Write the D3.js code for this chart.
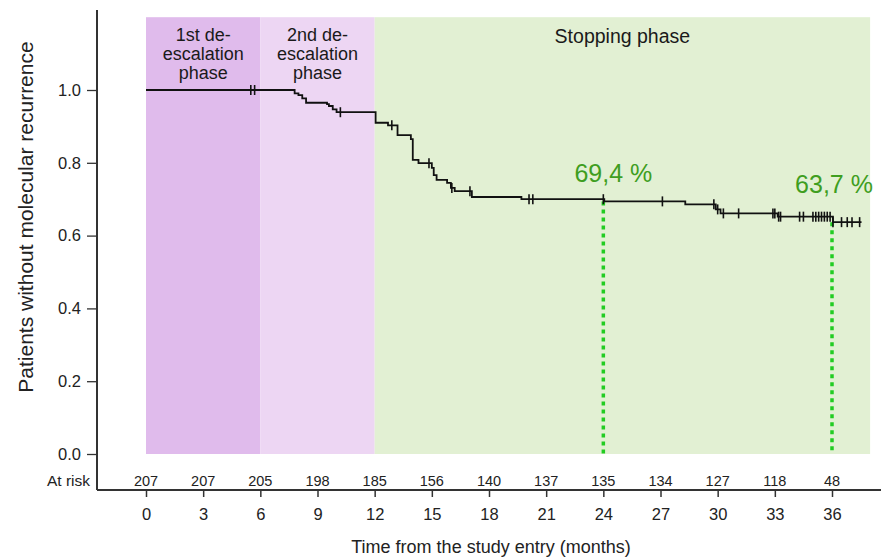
<!DOCTYPE html>
<html>
<head>
<meta charset="utf-8">
<script src="https://cdn.jsdelivr.net/npm/d3@7"></script>
<style>
  body { margin: 0; background: #fff; }
  svg text { font-family: "Liberation Sans", Arial, sans-serif; fill: #222; }
</style>
</head>
<body>
<div id="chart"></div>
<script>
// Kaplan-Meier steps (time in months, survival after the step)
const kmTimes = [0, 7.8, 8.0, 8.2, 8.4, 9.5, 9.6, 9.8, 10.0, 12.05, 12.7, 13.2, 13.9, 14.0, 14.3,
                 15.0, 15.1, 15.25, 15.8, 16.0, 16.2, 17.1, 19.7, 24.05, 28.3, 29.9, 30.15, 33.15, 36.05];
const kmSurv  = [1.0, 0.991, 0.986, 0.977, 0.965, 0.961, 0.956, 0.947, 0.939, 0.910, 0.903, 0.876, 0.865, 0.808, 0.799,
                 0.786, 0.766, 0.753, 0.745, 0.731, 0.722, 0.706, 0.700, 0.694, 0.686, 0.672, 0.661, 0.652, 0.637];
const kmEnd = 37.55;

// censored patients
const censorTimes = [5.5, 5.7, 10.2, 12.9, 14.85, 16.05, 17.0, 20.1, 20.3, 24.0, 27.1,
                     29.8, 30.0, 30.3, 31.1, 32.9, 33.0, 33.2, 33.3, 34.3, 34.5,
                     35.0, 35.15, 35.3, 35.45, 35.6, 35.75, 35.9, 36.05, 36.5, 36.8, 37.05, 37.45];

// phases
const phaseStart = [0, 6, 12];
const phaseEnd = [6, 12, 38];
const phaseNames = [["1st de-", "escalation", "phase"], ["2nd de-", "escalation", "phase"], ["Stopping phase"]];
const phaseColors = ["#e0bbec", "#edd6f3", "#e2f0d3"];

// highlighted estimates
const markTimes = [24, 36];
const markValues = [0.694, 0.637];
const markLabels = ["69,4 %", "63,7 %"];

// number at risk
const riskTimes = [0, 3, 6, 9, 12, 15, 18, 21, 24, 27, 30, 33, 36];
const atRisk = [207, 207, 205, 198, 185, 156, 140, 137, 135, 134, 127, 118, 48];
const yTicks = [0, 0.2, 0.4, 0.6, 0.8, 1.0];

const width = 881, height = 558;

const svg = d3.select("#chart")
              .append("svg")
              .attr("width", width)
              .attr("height", height);

const x = d3.scaleLinear().domain([0, 36]).range([146, 832]);
const y = d3.scaleLinear().domain([0, 1.2]).range([454, 17.2]);

const axisX = 97, axisY = 490;

// phase backgrounds
svg.selectAll("rect.phase")
   .data(phaseStart)
   .enter()
   .append("rect")
   .attr("class", "phase")
   .attr("x", (d, i) => x(d))
   .attr("width", (d, i) => x(phaseEnd[i]) - x(d))
   .attr("y", y(1.2))
   .attr("height", y(0) - y(1.2))
   .style("fill", (d, i) => phaseColors[i]);

phaseNames.forEach((lines, i) => {
  let t = svg.append("text")
             .attr("text-anchor", "middle")
             .style("font-size", i == 2 ? "19.5px" : "18px")
             .style("fill", "#1a1a1a");
  lines.forEach((l, j) => {
    t.append("tspan")
     .attr("x", (x(phaseStart[i]) + x(phaseEnd[i])) / 2)
     .attr("y", (i == 2 ? 43 : 41) + j * 19)
     .text(l);
  });
});

// dotted guide lines
svg.selectAll("line.mark")
   .data(markTimes)
   .enter()
   .append("line")
   .attr("class", "mark")
   .attr("x1", d => x(d))
   .attr("x2", d => x(d))
   .attr("y1", (d, i) => y(markValues[i]))
   .attr("y2", y(0))
   .style("stroke", "#22cc22")
   .style("stroke-width", 3.5)
   .style("stroke-dasharray", "4,4");

const markOffsets = [[10, -19], [2, -29]];
svg.selectAll("text.markLabel")
   .data(markTimes)
   .enter()
   .append("text")
   .attr("class", "markLabel")
   .attr("x", (d, i) => x(d) + markOffsets[i][0])
   .attr("y", (d, i) => y(markValues[i]) + markOffsets[i][1])
   .attr("text-anchor", "middle")
   .style("font-size", "25px")
   .style("fill", "#3f9e1f")
   .text((d, i) => markLabels[i]);

// KM curve
const steps = kmTimes.map((t, i) => [t, kmSurv[i]]);
steps.push([kmEnd, kmSurv[kmSurv.length - 1]]);

const line = d3.line()
               .x(d => x(d[0]))
               .y(d => y(d[1]))
               .curve(d3.curveStepAfter);

svg.append("path")
   .datum(steps)
   .attr("d", line)
   .style("fill", "none")
   .style("stroke", "#111")
   .style("stroke-width", 1.8);

const survAt = t => kmSurv[d3.bisectRight(kmTimes, t) - 1];

svg.selectAll("line.censor")
   .data(censorTimes)
   .enter()
   .append("line")
   .attr("class", "censor")
   .attr("x1", d => x(d))
   .attr("x2", d => x(d))
   .attr("y1", d => y(survAt(d)) - 5)
   .attr("y2", d => y(survAt(d)) + 5)
   .style("stroke", "#111")
   .style("stroke-width", 1.6);

// y axis
const yAxis = d3.axisLeft(y)
                .tickValues(yTicks)
                .tickSize(10)
                .tickPadding(6)
                .tickFormat(d3.format(".1f"));

let gy = svg.append("g")
            .attr("transform", `translate(${axisX},0)`)
            .call(yAxis);
gy.select(".domain").remove();
gy.selectAll(".tick line").style("stroke", "#333").style("stroke-width", 1.3);
gy.selectAll(".tick text").style("font-size", "16.5px").style("font-family", "Liberation Sans, Arial, sans-serif").style("fill", "#222");

svg.append("line")
   .attr("x1", axisX).attr("x2", axisX)
   .attr("y1", 10).attr("y2", axisY)
   .style("stroke", "#333")
   .style("stroke-width", 2);

// x axis
const xAxis = d3.axisBottom(x)
                .tickValues(riskTimes)
                .tickSize(7)
                .tickPadding(11)
                .tickFormat(d3.format("d"));

let gx = svg.append("g")
            .attr("transform", `translate(0,${axisY})`)
            .call(xAxis);
gx.select(".domain").remove();
gx.selectAll(".tick line").style("stroke", "#333").style("stroke-width", 1.5);
gx.selectAll(".tick text").style("font-size", "16.5px").style("font-family", "Liberation Sans, Arial, sans-serif").style("fill", "#222");

svg.append("line")
   .attr("x1", axisX).attr("x2", width)
   .attr("y1", axisY).attr("y2", axisY)
   .style("stroke", "#333")
   .style("stroke-width", 2);

// at risk row
svg.selectAll("text.risk")
   .data(riskTimes)
   .enter()
   .append("text")
   .attr("class", "risk")
   .attr("x", d => x(d))
   .attr("y", 486)
   .attr("text-anchor", "middle")
   .style("font-size", "14.5px")
   .text((d, i) => atRisk[i]);

svg.append("text")
   .attr("x", 90)
   .attr("y", 486)
   .attr("text-anchor", "end")
   .style("font-size", "15.5px")
   .text("At risk");

// titles
svg.append("text")
   .attr("x", 491)
   .attr("y", 553)
   .attr("text-anchor", "middle")
   .style("font-size", "18px")
   .text("Time from the study entry (months)");

svg.append("text")
   .attr("transform", "translate(33,217) rotate(-90)")
   .attr("text-anchor", "middle")
   .style("font-size", "21px")
   .text("Patients without molecular recurrence");
</script>
</body>
</html>
